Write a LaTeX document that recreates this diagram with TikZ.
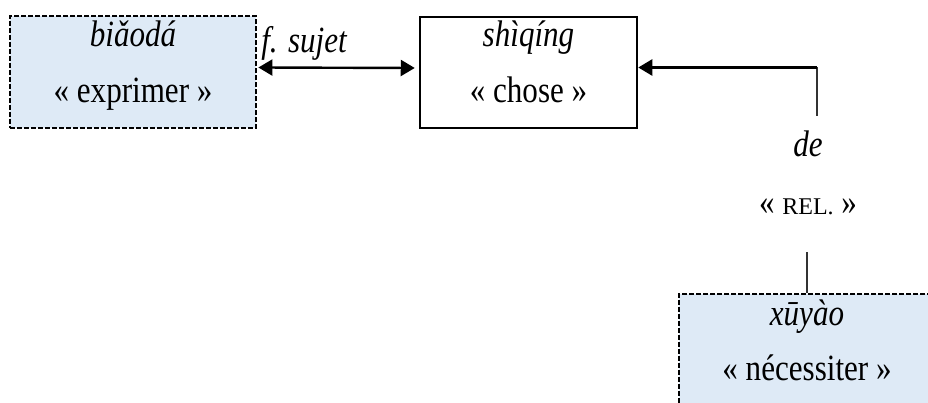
\documentclass[tikz,border=0pt]{standalone}
\usepackage{fontspec}
\setmainfont{Liberation Serif}[FakeStretch=0.84]
\newfontfamily\relfont{Liberation Serif}
\usetikzlibrary{arrows.meta}
\definecolor{boxblue}{RGB}{222,234,246}
\tikzset{
  plainbox/.style={draw=black, line width=2.5pt, minimum width=#1, inner sep=0pt},
  dashbox/.style={draw=black, fill=boxblue, line width=2.8pt, dash pattern=on 5pt off 2pt, inner sep=0pt},
  txt/.style={anchor=base, inner sep=0pt, font=\fontsize{37}{44}\selectfont},
  itxt/.style={txt, font=\fontsize{37}{44}\selectfont\itshape},
  link/.style={line width=1.8pt, draw=black!80},
  mytip/.tip={Triangle[length=14pt,width=16pt]},
}
\begin{document}
\begin{tikzpicture}[x=1pt,y=-1pt]
\useasboundingbox (0,0) rectangle (928,403);
\clip (0,0) rectangle (928,403);
% boxes
\node[dashbox, minimum width=246pt, minimum height=112pt] (biaoda) at (133,72) {};
\node[plainbox=217pt, minimum height=111pt] (shiqing) at (528.5,72.5) {};
\node[dashbox, minimum width=256pt, minimum height=126pt] (xuyao) at (807,357) {};
% texts
\node[itxt] (t1) at (133,47) {biǎodá};
\node[txt] (t2) at (133,103) {«~exprimer~»};
\node[itxt] (t3) at (528.5,47) {shìqíng};
\node[txt] (t4) at (528.5,103) {«~chose~»};
\node[itxt] (t5) at (304,53) {f. sujet};
\node[itxt] (t6) at (808,157) {de};
\node[txt] (t7) at (808,215) {«~{\relfont\fontsize{24}{30}\selectfont REL.}~»};
\node[itxt] (t8) at (807,325) {xūyào};
\node[txt] (t9) at (807,380) {«~nécessiter~»};
% connectors
\coordinate (arrL) at ([xshift=1pt,yshift=4.5pt]biaoda.east);
\coordinate (arrR) at ([xshift=-4pt,yshift=4.5pt]shiqing.west);
\draw[line width=2.4pt, mytip-mytip] (arrL) -- (arrR);
\coordinate (deTop) at (817,116);
\coordinate (corner) at (817,67.5);
\draw[link] (deTop) -- (corner);
\draw[line width=2.4pt, -mytip] (corner) -- ([yshift=5pt]shiqing.east);
\coordinate (deBot) at (807,252);
\draw[link] (deBot) -- (xuyao.north);
\end{tikzpicture}
\end{document}
